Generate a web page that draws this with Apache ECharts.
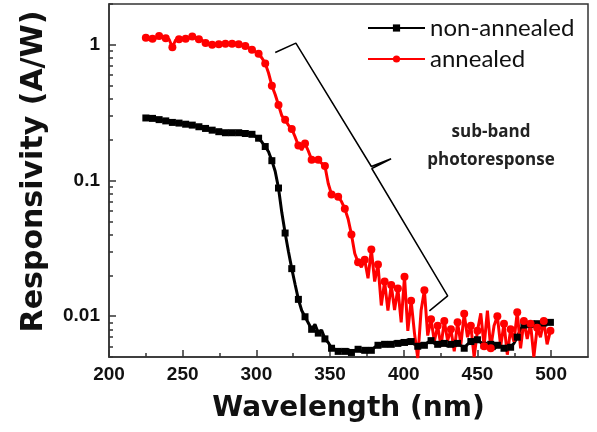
<!DOCTYPE html>
<html><head><meta charset="utf-8">
<script src="https://cdn.jsdelivr.net/npm/echarts@6/dist/echarts.min.js"></script>
<style>html,body{margin:0;padding:0;background:#fff}#c{width:597px;height:432px}</style>
</head><body><div id="c"></div>
<script>
// sampling grid of the measured spectra (nm)
const wlStart = 225;
const wlStep = 2.25;

// Responsivity (A/W), non-annealed
const nonAnnealed = [
0.289,0.288,0.287,0.285,0.281,0.278,0.275,0.272,0.268,0.266,
0.265,0.263,0.260,0.258,0.256,0.253,0.249,0.245,0.242,0.238,
0.235,0.232,0.229,0.227,0.225,0.224,0.225,0.224,0.225,0.224,
0.222,0.222,0.219,0.212,0.205,0.192,0.178,0.163,0.140,0.117,
0.088,0.058,0.041,0.030,0.0224,0.0172,0.0133,0.0110,0.0099,0.0089,
0.0080,0.0087,0.0075,0.0079,0.0068,0.0064,0.0058,0.0057,0.0055,0.0056,
0.0055,0.0057,0.0054,0.0056,0.0057,0.0055,0.0056,0.0058,0.0056,0.0059,
0.0061,0.0063,0.0062,0.0064,0.0062,0.0065,0.0063,0.0066,0.0064,0.0067,
0.0065,0.0062,0.0060,0.0063,0.0061,0.0064,0.0066,0.0063,0.0062,0.0061,
0.0063,0.0060,0.0062,0.0059,0.0063,0.0061,0.0058,0.0062,0.0065,0.0063,
0.0067,0.0064,0.0061,0.0058,0.0062,0.0057,0.0061,0.0060,0.0058,0.0062,
0.0059,0.0063,0.0070,0.0080,0.0086,0.0090,0.0087,0.0091,0.0088,0.0090,
0.0089,0.0091,0.0090
];

// Responsivity (A/W), annealed
const annealed = [
1.13,1.09,1.11,1.12,1.16,1.14,1.12,1.10,0.96,1.09,
1.10,1.09,1.11,1.12,1.15,1.13,1.10,1.08,1.03,1.01,
1.00,1.00,1.01,1.01,1.02,1.02,1.02,1.03,1.01,1.00,
0.98,0.95,0.92,0.89,0.86,0.80,0.73,0.62,0.50,0.43,
0.36,0.30,0.28,0.255,0.24,0.21,0.181,0.168,0.187,0.165,
0.142,0.139,0.142,0.134,0.128,0.095,0.079,0.078,0.076,0.070,
0.062,0.052,0.040,0.029,0.025,0.023,0.026,0.019,0.031,0.018,
0.024,0.012,0.018,0.011,0.017,0.0111,0.016,0.009,0.0195,0.0078,
0.013,0.0075,0.0049,0.011,0.0155,0.0072,0.0095,0.0065,0.0085,0.0060,
0.0092,0.0066,0.0080,0.0055,0.0090,0.0062,0.0104,0.0070,0.0085,0.0050,
0.0078,0.0105,0.0060,0.0110,0.0058,0.0085,0.0100,0.0060,0.0088,0.0052,
0.0080,0.0065,0.0107,0.0058,0.0092,0.0068,0.0088,0.0050,0.0082,0.0070,
0.0092,0.0062,0.0078
];

// axis ticks
const xMajorTicks = [200,250,300,350,400,450,500];
const xMinorTicks = [225,275,325,375,425,475];
const yMajorTicks = [0.01,0.1,1];
const yMinorTicks = [0.005,0.006,0.007,0.008,0.009,0.02,0.03,0.04,0.05,0.06,0.07,0.08,0.09,
                     0.2,0.3,0.4,0.5,0.6,0.7,0.8,0.9,2];

// "sub-band photoresponse" brace (data coordinates)
const braceX = [312.8,326.8,378.0,391.4,378.3,429.8,417.4];
const braceY = [0.878,1.029,0.1268,0.1445,0.1226,0.0141,0.01094];

const legendNames = ['non-annealed','annealed'];
const noteLines = ['sub-band','photoresponse'];

const wavelengths = nonAnnealed.map((_, i) => wlStart + wlStep * i);
const pairs = (xs, ys) => xs.map((x, i) => [x, ys[i]]);

const frame = '#333';
const tickFont = {fontFamily:'"Liberation Sans", Arial, sans-serif', fontWeight:'bold', fontSize:19, color:'#111'};
const titleFont = {fontFamily:'"DejaVu Sans", sans-serif', fontWeight:'bold', fontSize:28, color:'#111'};

const chart = echarts.init(document.getElementById('c'));
chart.setOption({
  animation:false,
  backgroundColor:'#fff',
  grid:{left:109, right:9, top:4, bottom:75, show:true, borderColor:frame, borderWidth:1.5},
  legend:{
    data:legendNames, orient:'vertical', left:362, top:11,
    itemWidth:57, itemHeight:9, itemGap:7,
    textStyle:{fontFamily:'Lato, sans-serif', fontSize:24, color:'#111'}
  },
  xAxis:[{
    type:'value', min:200, max:525,
    axisLine:{lineStyle:{color:frame, width:1.5}},
    axisTick:{inside:true, length:7, customValues:xMajorTicks, lineStyle:{color:frame, width:1.5}},
    axisLabel:Object.assign({customValues:xMajorTicks, margin:8}, tickFont),
    splitLine:{show:false},
    name:'Wavelength (nm)', nameLocation:'middle', nameGap:38, nameTextStyle:titleFont
  },{
    type:'value', min:200, max:525, position:'bottom', offset:0,
    axisLine:{show:false},
    axisTick:{inside:true, length:4, customValues:xMinorTicks, lineStyle:{color:frame, width:1.5}},
    axisLabel:{show:false}, splitLine:{show:false}
  }],
  yAxis:[{
    type:'log', logBase:10, min:0.005, max:2,
    axisLine:{show:true, lineStyle:{color:frame, width:1.5}},
    axisTick:{show:true, inside:true, length:7, customValues:yMajorTicks, lineStyle:{color:frame, width:1.5}},
    axisLabel:Object.assign({customValues:yMajorTicks, margin:9, formatter:v => String(v)}, tickFont),
    splitLine:{show:false},
    name:'Responsivity (A/W)', nameLocation:'middle', nameGap:60,
    nameTextStyle:Object.assign({padding:[0,0,0,18]}, titleFont, {fontSize:30})
  },{
    type:'log', logBase:10, min:0.005, max:2, position:'left', offset:0,
    axisLine:{show:false},
    axisTick:{show:true, inside:true, length:4, customValues:yMinorTicks, lineStyle:{color:frame, width:1.5}},
    axisLabel:{show:false}, splitLine:{show:false}
  }],
  series:[{
    name:'non-annealed', type:'line', xAxisIndex:0, yAxisIndex:0,
    data:pairs(wavelengths, nonAnnealed),
    symbol:'rect', showAllSymbol:true,
    symbolSize:(v, p) => (p.dataIndex % 2 === 0 ? 7 : 0),
    lineStyle:{color:'#000', width:3}, itemStyle:{color:'#000'}
  },{
    name:'annealed', type:'line', xAxisIndex:0, yAxisIndex:0,
    data:pairs(wavelengths, annealed),
    symbol:'circle', showAllSymbol:true,
    symbolSize:(v, p) => (p.dataIndex % 2 === 0 ? 8 : 0),
    lineStyle:{color:'#ff0000', width:3}, itemStyle:{color:'#ff0000'}
  },{
    name:'brace', type:'line', xAxisIndex:0, yAxisIndex:0, silent:true,
    data:pairs(braceX, braceY), symbol:'none',
    lineStyle:{color:'#000', width:1.5}
  }],
  graphic:[
    {type:'text', x:491, y:132, style:{text:noteLines[0], fill:'#222', font:'bold 17px "Open Sans", sans-serif', textAlign:'center', textVerticalAlign:'middle'}},
    {type:'text', x:491, y:160, style:{text:noteLines[1], fill:'#222', font:'bold 17px "Open Sans", sans-serif', textAlign:'center', textVerticalAlign:'middle'}}
  ]
});
</script></body></html>
